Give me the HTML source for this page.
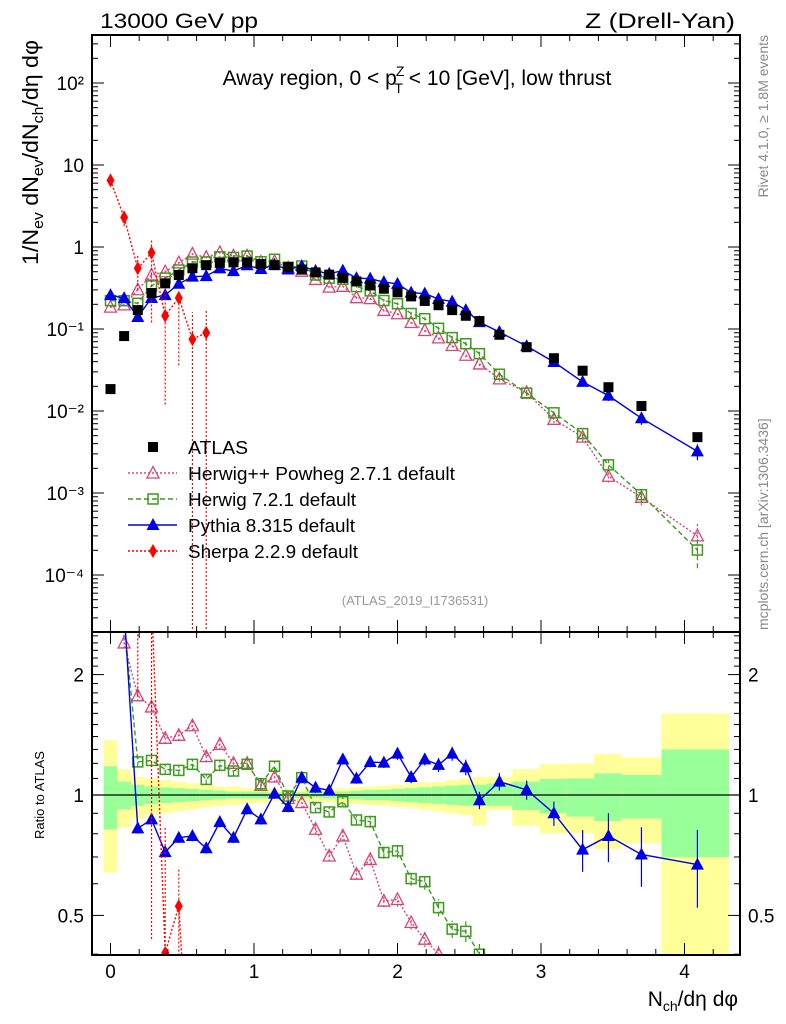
<!DOCTYPE html>
<html><head><meta charset="utf-8"><style>
html,body{margin:0;background:#fff;overflow:hidden;width:786px;height:1024px}
svg{display:block;font-family:"Liberation Sans",sans-serif}
</style></head><body>
<svg id="c" width="786" height="1024" viewBox="0 0 786 1024">
<defs>
<clipPath id="clipMain"><rect x="92" y="35" width="648" height="597"/></clipPath>
<clipPath id="clipRatio"><rect x="92" y="632" width="648" height="323"/></clipPath>
</defs>
<g id="bands" clip-path="url(#clipRatio)"></g>
<g id="marksMain" clip-path="url(#clipMain)"></g>
<g id="marksRatio" clip-path="url(#clipRatio)"></g>
<g id="axes"></g>
<text x="100" y="28" font-size="21" textLength="158" lengthAdjust="spacingAndGlyphs">13000 GeV pp</text>
<text x="585" y="28" font-size="21" textLength="150" lengthAdjust="spacingAndGlyphs">Z (Drell-Yan)</text>
<text x="417" y="85" font-size="21" text-anchor="middle">Away region, 0 &lt; p<tspan font-size="14" dy="-9" dx="-1">Z</tspan><tspan font-size="14" dy="17" dx="-10">T</tspan><tspan dy="-8"> &lt; 10 [GeV], low thrust</tspan></text>
<text transform="translate(768,35) rotate(-90)" font-size="14" fill="#888" text-anchor="end">Rivet 4.1.0, ≥ 1.8M events</text>
<text transform="translate(768,630) rotate(-90)" font-size="14" fill="#888">mcplots.cern.ch [arXiv:1306.3436]</text>
<text transform="translate(38,265) rotate(-90)" font-size="22" textLength="225" lengthAdjust="spacingAndGlyphs">1/N<tspan font-size="15" dy="5">ev</tspan><tspan dy="-5"> dN</tspan><tspan font-size="15" dy="5">ev</tspan><tspan dy="-5">/dN</tspan><tspan font-size="15" dy="5">ch</tspan><tspan dy="-5">/dη dφ</tspan></text>
<text transform="translate(44,795) rotate(-90)" font-size="13" text-anchor="middle">Ratio to ATLAS</text>
<text x="738" y="1006" font-size="21" text-anchor="end">N<tspan font-size="14" dy="5">ch</tspan><tspan dy="-5">/dη dφ</tspan></text>
<text x="415" y="605" font-size="13" fill="#999" text-anchor="middle">(ATLAS_2019_I1736531)</text>
<g id="legend"></g>
</svg>
<script>
const xUni = [0,0.095,0.19,0.286,0.381,0.476,0.571,0.667,0.762,0.857,0.952,1.048,1.143,1.238,1.333,1.429,1.524,1.619,1.714,1.81,1.905,2.0,2.095,2.19,2.286,2.381,2.476,2.571];
const xWide = [2.71,2.90,3.09,3.29,3.47,3.70,4.09];
const edgesWide = [2.62,2.80,2.99,3.18,3.37,3.56,3.84,4.31];
const atlas = [0.0185,0.082,0.17,0.275,0.36,0.455,0.55,0.6,0.64,0.65,0.65,0.62,0.6,0.57,0.53,0.49,0.46,0.42,0.38,0.34,0.31,0.28,0.25,0.22,0.195,0.17,0.145,0.125,0.085,0.06,0.044,0.031,0.0195,0.0115,0.0048];
const pythiaRatio = [14,2.9,0.825,0.869,0.72,0.782,0.79,0.736,0.856,0.782,0.921,0.869,1.008,0.933,1.105,1.043,1.027,1.228,1.10,1.209,1.205,1.269,1.109,1.228,1.189,1.269,1.173,0.97,1.08,1.03,0.9,0.73,0.79,0.71,0.67];
const herwigppRatio = [10,2.4,1.77,1.66,1.386,1.41,1.49,1.247,1.339,1.2,1.2,1.057,1.109,0.98,0.957,0.821,0.704,0.79,0.634,0.69,0.543,0.548,0.48,0.436,0.40,0.37,0.33,0.30,0.29,0.28,0.18,0.155,0.082,0.077,0.0625];
const herwig7Ratio = [12,2.7,1.21,1.22,1.159,1.152,1.193,1.094,1.186,1.148,1.193,1.067,1.18,0.994,1.105,0.93,0.907,0.962,0.866,0.858,0.718,0.725,0.618,0.607,0.523,0.462,0.456,0.40,0.33,0.275,0.216,0.171,0.113,0.083,0.042];
const pythiaErr = [0.03,0.03,0.03,0.03,0.03,0.03,0.03,0.03,0.03,0.03,0.03,0.03,0.03,0.03,0.03,0.03,0.03,0.03,0.03,0.03,0.03,0.035,0.035,0.035,0.04,0.04,0.045,0.05,0.05,0.055,0.07,0.12,0.14,0.17,0.22];
const mcErr = [0.03,0.03,0.03,0.03,0.03,0.03,0.03,0.03,0.03,0.03,0.03,0.03,0.03,0.03,0.03,0.03,0.03,0.03,0.03,0.035,0.035,0.04,0.04,0.045,0.05,0.05,0.06,0.06,0.07,0.08,0.1,0.12,0.16,0.2,0.4];
const sherpaVal = [6.5,2.3,0.55,0.85,0.145,0.24,0.075,0.09];
const sherpaLo = [5.5,1.8,0.3,0.12,0.012,0.036,0.0,0.0];
const sherpaHi = [7.5,2.8,0.8,1.2,0.3,0.3,0.16,0.17];
const yelHi = [1.37,1.16,1.11,1.10,1.09,1.08,1.07,1.06,1.05,1.05,1.04,1.04,1.035,1.03,1.03,1.03,1.035,1.04,1.045,1.05,1.055,1.06,1.07,1.075,1.08,1.09,1.10,1.11,1.111,1.161,1.195,1.2,1.266,1.242,1.6];
const yelLo = [0.64,0.83,0.87,0.89,0.9,0.91,0.92,0.93,0.94,0.945,0.95,0.955,0.96,0.965,0.965,0.965,0.96,0.955,0.95,0.945,0.94,0.935,0.93,0.92,0.91,0.9,0.89,0.84,0.917,0.838,0.802,0.802,0.732,0.757,0.30];
const grnHi = [1.18,1.08,1.06,1.05,1.045,1.04,1.035,1.03,1.025,1.02,1.02,1.02,1.015,1.015,1.015,1.015,1.02,1.02,1.025,1.03,1.03,1.035,1.04,1.045,1.05,1.055,1.06,1.06,1.069,1.08,1.096,1.1,1.133,1.122,1.3];
const grnLo = [0.82,0.92,0.94,0.95,0.955,0.96,0.965,0.97,0.975,0.98,0.98,0.98,0.985,0.985,0.985,0.985,0.98,0.98,0.975,0.97,0.97,0.965,0.96,0.955,0.95,0.945,0.94,0.94,0.94,0.917,0.9,0.883,0.861,0.874,0.699];
const xTicks = [0,1,2,3,4];
const mainTickLabels = ["10⁻⁴","10⁻³","10⁻²","10⁻¹","1","10","10²"];
const ratioTickVals = [0.5,1,2];

const NS="http://www.w3.org/2000/svg";
const X0=110.5, XS=143.5, RB=955;
const sx = v => X0 + v*XS;
const syM = v => 247 - Math.log10(v)*82;
const syR = v => 795 - Math.log10(v)*400;
const xs = xUni.concat(xWide);
function mk(tag, attrs, parent){const e=document.createElementNS(NS,tag);for(const k in attrs)e.setAttribute(k,attrs[k]);parent.appendChild(e);return e;}
const gB=document.getElementById('bands'), gM=document.getElementById('marksMain'), gR=document.getElementById('marksRatio'), gA=document.getElementById('axes'), gL=document.getElementById('legend');

const edges=[];
for(let i=0;i<xUni.length;i++){const w=0.0476;edges.push([xUni[i]-w,xUni[i]+w]);}
for(let i=0;i<xWide.length;i++)edges.push([edgesWide[i],edgesWide[i+1]]);
edges[xUni.length-1][1]=edgesWide[0];
for(let i=0;i<xs.length;i++){
  const [a,b]=edges[i];
  const y=mk('rect',{x:sx(a),width:sx(b)-sx(a),y:syR(yelHi[i]),height:syR(yelLo[i])-syR(yelHi[i]),fill:'#ffff99'},gB);
  
  
  const g=mk('rect',{x:sx(a),width:sx(b)-sx(a),y:syR(grnHi[i]),height:syR(grnLo[i])-syR(grnHi[i]),fill:'#99ff99'},gB);
  
  
}
const one=mk('line',{x1:92,x2:740,y1:syR(1),y2:syR(1),stroke:'#000','stroke-width':1.3},gB);



function marker(type,cx,cy,col,parent,name){
  let e;
  if(type==='sq') e=mk('rect',{x:cx-5,y:cy-5,width:10,height:10,fill:'#000'},parent);
  else if(type==='osq') e=mk('rect',{x:cx-5,y:cy-5,width:10,height:10,fill:'none',stroke:col,'stroke-width':1.5},parent);
  else if(type==='tri') e=mk('polygon',{points:`${cx},${cy-7} ${cx-6.5},${cy+5} ${cx+6.5},${cy+5}`,fill:col},parent);
  else if(type==='otri') e=mk('polygon',{points:`${cx},${cy-6.5} ${cx-6},${cy+5} ${cx+6},${cy+5}`,fill:'none',stroke:col,'stroke-width':1.3},parent);
  else e=mk('polygon',{points:`${cx},${cy-7} ${cx-4},${cy} ${cx},${cy+7} ${cx+4},${cy}`,fill:col},parent);
  
  
}
function series(vals,err,col,dash,type,name,parent,sy,xv){
  const pts=vals.map((v,i)=>[sx(xv[i]),sy(Math.max(v,1e-9))]);
  const p=mk('polyline',{points:pts.map(q=>q.join(',')).join(' '),fill:'none',stroke:col,'stroke-width':1.4,'stroke-dasharray':dash},parent);
  
  
  vals.forEach((v,i)=>{
    if(err){
      const lo=err.lo[i],hi=err.hi[i];
      const l=mk('line',{x1:pts[i][0],x2:pts[i][0],y1:sy(Math.max(lo,1e-9)),y2:sy(hi),stroke:col,'stroke-width':1.2,'stroke-dasharray':dash},parent);
      
      
    }
    marker(type,pts[i][0],pts[i][1],col,parent,name+'-point');
  });
}
const PY='#0000e6', HPP='#d6457a', H7='#3c9a1c', SH='#ff0000';
function mainOf(r){return r.map((v,i)=>v*atlas[i]);}
function errOf(vals,e){return {lo:vals.map((v,i)=>v*(1-e[i])),hi:vals.map((v,i)=>v*(1+e[i]))};}
const py=mainOf(pythiaRatio), hpp=mainOf(herwigppRatio), h7=mainOf(herwig7Ratio);
series(hpp,errOf(hpp,mcErr),HPP,'2,2','otri','herwigpp',gM,syM,xs);
series(h7,errOf(h7,mcErr),H7,'5,3','osq','herwig7',gM,syM,xs);
series(py,errOf(py,pythiaErr),PY,'','tri','pythia',gM,syM,xs);
series(sherpaVal,{lo:sherpaLo,hi:sherpaHi},SH,'2,2','dia','sherpa',gM,syM,xs.slice(0,8));
atlas.forEach((v,i)=>marker('sq',sx(xs[i]),syM(v),'#000',gM,'atlas-point'));
series(herwigppRatio,errOf(herwigppRatio,mcErr),HPP,'2,2','otri','herwigpp-ratio',gR,syR,xs);
series(herwig7Ratio,errOf(herwig7Ratio,mcErr),H7,'5,3','osq','herwig7-ratio',gR,syR,xs);
series(pythiaRatio,errOf(pythiaRatio,pythiaErr),PY,'','tri','pythia-ratio',gR,syR,xs);
const shR=sherpaVal.map((v,i)=>v/atlas[i]);
series(shR,{lo:sherpaLo.map((v,i)=>v/atlas[i]),hi:sherpaHi.map((v,i)=>v/atlas[i])},SH,'2,2','dia','sherpa-ratio',gR,syR,xs.slice(0,8));

[[35,632],[632,RB]].forEach(([t,b],k)=>{
  const r=mk('rect',{x:92,y:t,width:648,height:b-t,fill:'none',stroke:'#000','stroke-width':2},gA);
  
  
  for(let v=0;v<=4.4;v+=0.2){
    const x=sx(v); if(x<92||x>740)continue;
    const major=Math.abs(v-Math.round(v))<1e-6, L=major?12:6;
    mk('line',{x1:x,x2:x,y1:b,y2:b-L,stroke:'#000','stroke-width':1},gA);
    mk('line',{x1:x,x2:x,y1:t,y2:t+L,stroke:'#000','stroke-width':1},gA);
  }
});
xTicks.forEach(v=>{
  const t=mk('text',{x:sx(v),y:978,'font-size':19,'text-anchor':'middle'},gA);
  t.textContent=String(v);
  
  
});
for(let d=-5;d<=2;d++){
  for(let m=1;m<10;m++){
    const v=m*Math.pow(10,d), y=syM(v); if(y<35||y>632)continue;
    const L=m===1?12:6;
    mk('line',{x1:92,x2:92+L,y1:y,y2:y,stroke:'#000','stroke-width':1},gA);
    mk('line',{x1:740,x2:740-L,y1:y,y2:y,stroke:'#000','stroke-width':1},gA);
  }
}
mainTickLabels.forEach((s,i)=>{
  const t=mk('text',{x:84,y:syM(Math.pow(10,i-4))+7,'font-size':19,'text-anchor':'end'},gA);
  t.textContent=s;
  
  
});
for(let v=0.4;v<2.6;v+=0.1){
  const y=syR(v); if(y<632||y>RB)continue;
  const major=[0.5,1,2].some(q=>Math.abs(q-v)<1e-6), L=major?12:6;
  mk('line',{x1:92,x2:92+L,y1:y,y2:y,stroke:'#000','stroke-width':1},gA);
  mk('line',{x1:740,x2:740-L,y1:y,y2:y,stroke:'#000','stroke-width':1},gA);
}
ratioTickVals.forEach(v=>{
  const a=mk('text',{x:84,y:syR(v)+7,'font-size':19,'text-anchor':'end'},gA);
  a.textContent=String(v);
  
  
  const b=mk('text',{x:748,y:syR(v)+7,'font-size':19},gA);
  b.textContent=String(v);
  
  
});
const leg=[['ATLAS','#000','','sq',false,60],['Herwig++ Powheg 2.7.1 default',HPP,'2,2','otri',true,267],['Herwig 7.2.1 default',H7,'5,3','osq',true,168],['Pythia 8.315 default',PY,'','tri',true,167],['Sherpa 2.2.9 default',SH,'2,2','dia',true,170]];
leg.forEach((e,i)=>{
  const y=447+i*26;
  const g=mk('g',{},gL);
  
  
  if(e[4]) mk('line',{x1:128,x2:177,y1:y,y2:y,stroke:e[1],'stroke-width':1.4,'stroke-dasharray':e[2]},g);
  marker(e[3],153,y,e[1],g,'legend-marker');
  const t=mk('text',{x:188,y:y+7,'font-size':18,textLength:e[5],lengthAdjust:'spacingAndGlyphs'},g);
  t.textContent=e[0];
});
</script>
</body></html>
